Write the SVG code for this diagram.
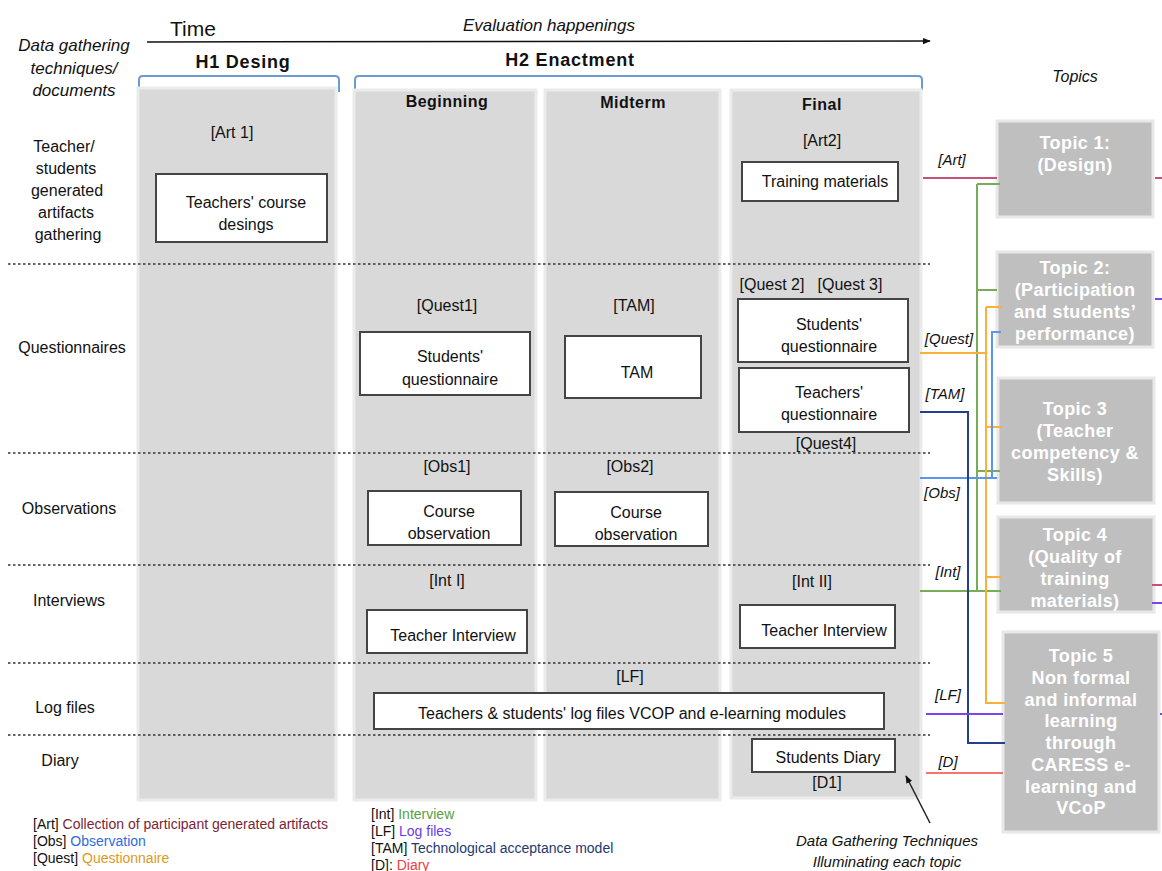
<svg xmlns="http://www.w3.org/2000/svg" width="1162" height="871" viewBox="0 0 1162 871">
<style>
text{font-family:"Liberation Sans",Arial,sans-serif;fill:#111}
.b{font-size:16px}
.m{text-anchor:middle}
.it{font-style:italic}
.bold{font-weight:bold}
.col{fill:#d9d9d9;stroke:#ebebeb;stroke-width:3}
.box{fill:#fff;stroke:#444;stroke-width:2}
.topic{fill:#bfbfbf;stroke:#e8e8e8;stroke-width:3}
.tt{font-size:18px;font-weight:bold;fill:#fff;text-anchor:middle;letter-spacing:0.4px}
.dot{stroke:#333;stroke-width:1.3;stroke-dasharray:2.5 2.5;fill:none}
.br{fill:none;stroke:#6b9bd1;stroke-width:2}
.c{fill:none;stroke-width:2}
.lg{font-size:14px}
.cl{font-size:15px;font-style:italic}
.ch{font-size:16px;font-weight:bold;text-anchor:middle;letter-spacing:0.5px}
</style>
<defs>
<marker id="ah" viewBox="0 0 10 10" refX="9" refY="5" markerWidth="8" markerHeight="8" orient="auto" markerUnits="userSpaceOnUse"><path d="M0,1 L10,5 L0,9 z" fill="#111"/></marker>
</defs>
<rect width="1162" height="871" fill="#fff"/>

<!-- header -->
<g id="header">
<text x="193" y="36" class="m" style="font-size:21px">Time</text>
<text x="549" y="31" class="m it" style="font-size:17px">Evaluation happenings</text>
<line x1="147" y1="42" x2="930" y2="41" stroke="#111" stroke-width="1.5" marker-end="url(#ah)"/>
<text x="74" y="51" class="m it" style="font-size:17px">Data gathering</text>
<text x="74" y="74" class="m it" style="font-size:17px">techniques/</text>
<text x="74" y="96" class="m it" style="font-size:17px">documents</text>
<text x="243" y="68" class="m bold" style="font-size:18px;letter-spacing:0.8px">H1 Desing</text>
<text x="570" y="66" class="m bold" style="font-size:18px;letter-spacing:0.8px">H2 Enactment</text>
<path class="br" d="M139,92 V80 Q139,76 143,76 H335 Q339,76 339,80 V92"/>
<path class="br" d="M355,92 V80 Q355,76 359,76 H918 Q922,76 922,80 V90"/>
<text x="1075" y="82" class="m it" style="font-size:16px">Topics</text>
</g>

<!-- columns -->
<g id="columns">
<rect class="col" x="138" y="88" width="198" height="712"/>
<rect class="col" x="354" y="90" width="182" height="710"/>
<rect class="col" x="545" y="90" width="175" height="710"/>
<rect class="col" x="731" y="90" width="190" height="708"/>
<text x="447" y="107" class="ch">Beginning</text>
<text x="633" y="108" class="ch">Midterm</text>
<text x="822" y="110" class="ch">Final</text>
</g>

<!-- row labels -->
<g id="rows">
<text x="64" y="152" class="m b">Teacher/</text>
<text x="66" y="174" class="m b">students</text>
<text x="67" y="196" class="m b">generated</text>
<text x="66" y="218" class="m b">artifacts</text>
<text x="68" y="240" class="m b">gathering</text>
<text x="72" y="353" class="m b">Questionnaires</text>
<text x="69" y="514" class="m b">Observations</text>
<text x="69" y="606" class="m b">Interviews</text>
<text x="65" y="713" class="m b">Log files</text>
<text x="60" y="766" class="m b">Diary</text>
</g>

<!-- separators -->
<g id="separators">
<line class="dot" x1="8" y1="264" x2="930" y2="264"/>
<line class="dot" x1="8" y1="453" x2="930" y2="453"/>
<line class="dot" x1="8" y1="565" x2="930" y2="565"/>
<line class="dot" x1="8" y1="663" x2="930" y2="663"/>
<line class="dot" x1="8" y1="735" x2="930" y2="735"/>
</g>

<!-- nodes -->
<g id="art1">
<text x="232" y="138" class="m b">[Art 1]</text>
<rect class="box" x="156" y="174" width="171" height="68"/>
<text x="246" y="208" class="m b">Teachers' course</text>
<text x="246" y="230" class="m b">desings</text>
</g>
<g id="art2">
<text x="822" y="146" class="m b">[Art2]</text>
<rect class="box" x="742" y="162" width="156" height="39"/>
<text x="825" y="187" class="m b">Training materials</text>
</g>
<g id="quest1">
<text x="447" y="311" class="m b">[Quest1]</text>
<rect class="box" x="360" y="332" width="170" height="63"/>
<text x="450" y="362" class="m b">Students'</text>
<text x="450" y="385" class="m b">questionnaire</text>
</g>
<g id="tam">
<text x="634" y="311" class="m b">[TAM]</text>
<rect class="box" x="565" y="336" width="136" height="62"/>
<text x="637" y="378" class="m b">TAM</text>
</g>
<g id="quest23">
<text x="772" y="290" class="m b">[Quest 2]</text>
<text x="850" y="290" class="m b">[Quest 3]</text>
<rect class="box" x="738" y="299" width="170" height="63"/>
<text x="829" y="330" class="m b">Students'</text>
<text x="829" y="352" class="m b">questionnaire</text>
</g>
<g id="quest4">
<rect class="box" x="739" y="368" width="170" height="64"/>
<text x="829" y="398" class="m b">Teachers'</text>
<text x="829" y="420" class="m b">questionnaire</text>
<text x="826" y="449" class="m b">[Quest4]</text>
</g>
<g id="obs1">
<text x="447" y="472" class="m b">[Obs1]</text>
<rect class="box" x="368" y="491" width="153" height="54"/>
<text x="449" y="517" class="m b">Course</text>
<text x="449" y="539" class="m b">observation</text>
</g>
<g id="obs2">
<text x="630" y="472" class="m b">[Obs2]</text>
<rect class="box" x="555" y="492" width="153" height="54"/>
<text x="636" y="518" class="m b">Course</text>
<text x="636" y="540" class="m b">observation</text>
</g>
<g id="int1">
<text x="447" y="586" class="m b">[Int I]</text>
<rect class="box" x="367" y="610" width="160" height="43"/>
<text x="453" y="641" class="m b">Teacher Interview</text>
</g>
<g id="int2">
<text x="812" y="587" class="m b">[Int II]</text>
<rect class="box" x="740" y="605" width="155" height="43"/>
<text x="824" y="636" class="m b">Teacher Interview</text>
</g>
<g id="lf">
<text x="630" y="682" class="m b">[LF]</text>
<rect class="box" x="374" y="693" width="510" height="36"/>
<text x="632" y="719" class="m b">Teachers &amp; students' log files VCOP and e-learning modules</text>
</g>
<g id="d1">
<rect class="box" x="752" y="739" width="143" height="33"/>
<text x="828" y="763" class="m b">Students Diary</text>
<text x="827" y="788" class="m b">[D1]</text>
</g>

<!-- topics -->
<g id="topic1">
<rect class="topic" x="997" y="121" width="156" height="96"/>
<text x="1075" y="149" class="tt">Topic 1:</text>
<text x="1075" y="171" class="tt">(Design)</text>
</g>
<g id="topic2">
<rect class="topic" x="997" y="252" width="156" height="95"/>
<text x="1075" y="274" class="tt">Topic 2:</text>
<text x="1075" y="296" class="tt">(Participation</text>
<text x="1075" y="318" class="tt">and students’</text>
<text x="1075" y="340" class="tt">performance)</text>
</g>
<g id="topic3">
<rect class="topic" x="998" y="378" width="156" height="125"/>
<text x="1075" y="415" class="tt">Topic 3</text>
<text x="1075" y="437" class="tt">(Teacher</text>
<text x="1075" y="459" class="tt">competency &amp;</text>
<text x="1075" y="481" class="tt">Skills)</text>
</g>
<g id="topic4">
<rect class="topic" x="998" y="517" width="156" height="95"/>
<text x="1075" y="541" class="tt">Topic 4</text>
<text x="1075" y="563" class="tt">(Quality of</text>
<text x="1075" y="585" class="tt">training</text>
<text x="1075" y="607" class="tt">materials)</text>
</g>
<g id="topic5">
<rect class="topic" x="1003" y="632" width="156" height="200"/>
<text x="1081" y="662" class="tt">Topic 5</text>
<text x="1081" y="684" class="tt">Non formal</text>
<text x="1081" y="706" class="tt">and informal</text>
<text x="1081" y="727" class="tt">learning</text>
<text x="1081" y="749" class="tt">through</text>
<text x="1081" y="771" class="tt">CARESS e-</text>
<text x="1081" y="793" class="tt">learning and</text>
<text x="1081" y="814" class="tt">VCoP</text>
</g>

<!-- connectors -->
<g id="connectors">
<path class="c" stroke="#c8507a" d="M923,178 H997 M1155,178 H1162 M1152,585 H1162"/>
<path class="c" stroke="#77ad58" d="M977,184 V591 M977,184 H1000 M977,290 H997 M977,471 H1000 M920,591 H1001"/>
<path class="c" stroke="#fbb03b" d="M920,353 H986 M986,307 V703 H1005 M986,307 H1002 M986,427 H1002 M986,577 H1001"/>
<path class="c" stroke="#5a96f0" d="M920,478 H997 M992,478 V332 H1001"/>
<path class="c" stroke="#23408e" d="M920,412 H968 V743 H1005"/>
<path class="c" stroke="#7b45ee" d="M926,714 H1003 M1155,299 H1162 M1152,603 H1162 M1160,714 H1162"/>
<path class="c" stroke="#f4756d" d="M926,773 H1003"/>
<text x="952" y="165" class="m cl">[Art]</text>
<text x="949" y="344" class="m cl">[Quest]</text>
<text x="945" y="399" class="m cl">[TAM]</text>
<text x="942" y="498" class="m cl">[Obs]</text>
<text x="948" y="577" class="m cl">[Int]</text>
<text x="948" y="700" class="m cl">[LF]</text>
<text x="948" y="767" class="m cl">[D]</text>
<line x1="930" y1="823" x2="906" y2="776" stroke="#222" stroke-width="1.5" marker-end="url(#ah)"/>
</g>

<!-- annotation -->
<g id="annotation">
<text x="887" y="846" class="m it" style="font-size:15px">Data Gathering Techniques</text>
<text x="887" y="867" class="m it" style="font-size:15px">Illuminating each topic</text>
</g>

<!-- legend -->
<g id="legend">
<text x="33" y="829" class="lg">[Art] <tspan fill="#7a2536">Collection of participant generated artifacts</tspan></text>
<text x="33" y="846" class="lg">[Obs] <tspan fill="#2f6bdc">Observation</tspan></text>
<text x="33" y="863" class="lg">[Quest] <tspan fill="#dc9a1c">Questionnaire</tspan></text>
<text x="371" y="819" class="lg">[Int] <tspan fill="#5aa040">Interview</tspan></text>
<text x="371" y="836" class="lg">[LF] <tspan fill="#6a3de8">Log files</tspan></text>
<text x="371" y="853" class="lg">[TAM] <tspan fill="#253870">Technological acceptance model</tspan></text>
<text x="371" y="870" class="lg">[D]: <tspan fill="#f03c3c">Diary</tspan></text>
</g>
</svg>
